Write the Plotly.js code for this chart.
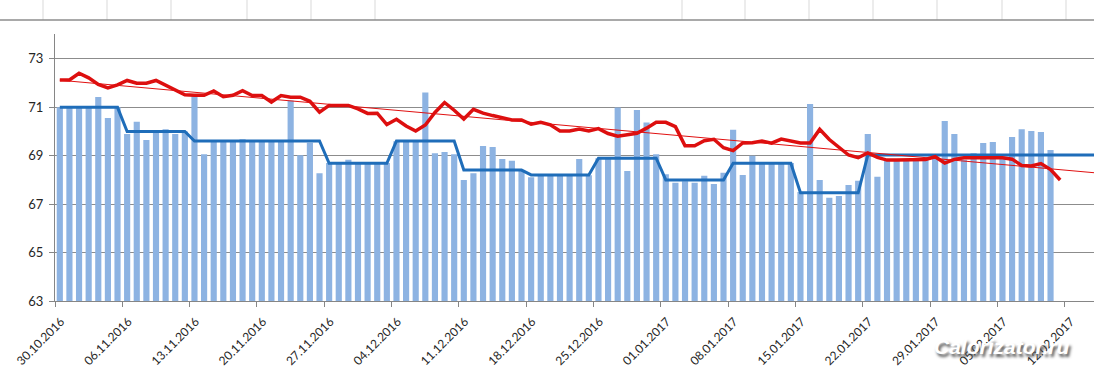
<!DOCTYPE html>
<html>
<head>
<meta charset="utf-8">
<script src="https://cdn.plot.ly/plotly-3.0.1.min.js"></script>
<style>
html,body{margin:0;padding:0;background:#fff;overflow:hidden;}
#chart{width:1180px;height:369px;}
</style>
</head>
<body>
<div id="chart"></div>
<script>
// Week tick labels (one every 7 days starting 30.10.2016)
const tickLabels = ['30.10.2016','06.11.2016','13.11.2016','20.11.2016','27.11.2016','04.12.2016',
  '11.12.2016','18.12.2016','25.12.2016','01.01.2017','08.01.2017','15.01.2017','22.01.2017',
  '29.01.2017','05.02.2017','12.02.2017','19.02.2017'];

// Daily weight (bars), 30.10.2016 .. 10.02.2017
const dailyWeight = [
  71.0, 71.0, 71.0, 71.0, 71.43, 70.56, 71.0,
  69.9, 70.40, 69.65, 70.0, 70.09, 69.9, 70.0,
  71.47, 69.06, 69.6, 69.6, 69.6, 69.68, 69.6,
  69.6, 69.6, 69.6, 71.28, 69.02, 69.54, 68.28,
  68.7, 68.7, 68.83, 68.7, 68.7, 68.7, 68.7,
  69.6, 69.6, 69.6, 71.61, 69.10, 69.16, 69.06,
  68.0, 68.28, 69.40, 69.36, 68.87, 68.79, 68.4,
  68.11, 68.2, 68.2, 68.2, 68.2, 68.87, 68.2,
  68.9, 68.9, 70.99, 68.37, 70.89, 70.37, 69.06,
  68.24, 67.89, 67.95, 67.89, 68.17, 67.83, 68.3,
  70.07, 68.21, 69.0, 68.7, 68.7, 68.7, 68.7,
  67.5, 71.14, 68.0, 67.27, 67.34, 67.79, 67.97,
  69.9, 68.13, 68.83, 68.83, 68.83, 68.83, 68.83,
  68.96, 70.44, 69.9, 68.83, 69.1, 69.53, 69.57,
  68.96, 69.78, 70.1, 70.02, 69.98, 69.24
];

// Smoothed weight (red line), 30.10.2016 .. 11.02.2017
const smoothWeight = [
  72.13, 72.13, 72.41, 72.22, 71.95, 71.8, 71.93,
  72.11, 72.0, 72.0, 72.11, 71.9, 71.69, 71.52,
  71.5, 71.5, 71.68, 71.44, 71.5, 71.69, 71.49,
  71.49, 71.22, 71.49, 71.42, 71.42, 71.25, 70.8,
  71.08, 71.08, 71.08, 70.94, 70.75, 70.76, 70.29,
  70.51, 70.23, 70.02, 70.27, 70.79, 71.2, 70.88,
  70.52, 70.92, 70.76, 70.66, 70.56, 70.48, 70.48,
  70.3, 70.38, 70.28, 70.02, 70.02, 70.1, 70.02,
  70.12, 69.92, 69.81, 69.88, 69.93, 70.14, 70.38,
  70.38, 70.2, 69.41, 69.41, 69.62, 69.68, 69.33,
  69.21, 69.53, 69.54, 69.61, 69.52, 69.69, 69.6,
  69.53, 69.53, 70.09, 69.67, 69.33, 69.03, 68.92,
  69.12, 68.93, 68.82, 68.82, 68.82, 68.82, 68.85,
  68.96, 68.7, 68.85, 68.92, 68.92, 68.92, 68.92,
  68.92, 68.86, 68.6, 68.58, 68.68, 68.43, 68.0
];

// Weekly level (blue step line), one value per week
const weeklyLevel = [71.0, 70.0, 69.61, 69.61, 68.69, 69.61, 68.41, 68.21,
  68.9, 68.0, 68.69, 67.47, 69.03, 69.03, 69.03, 69.03, 69.03];

// ---- build traces ----
const barX = dailyWeight.map((_, i) => i + 0.5);
const redX = smoothWeight.map((_, i) => i + 0.5);
const blueX = [], blueY = [];
weeklyLevel.forEach((v, w) => { for (let d = 0; d < 7; d++) { blueX.push(w * 7 + d + 0.5); blueY.push(v); } });

// linear trend of the red series (least squares), extended forward
const n = smoothWeight.length;
let sx = 0, sy = 0, sxx = 0, sxy = 0;
redX.forEach((x, i) => { const y = smoothWeight[i]; sx += x; sy += y; sxx += x * x; sxy += x * y; });
const slope = (n * sxy - sx * sy) / (n * sxx - sx * sx);
const icpt = (sy - slope * sx) / n;
const trendX = [redX[0], 120];
const trendY = trendX.map(x => icpt + slope * x);

const tickVals = tickLabels.map((_, k) => k * 7);

const traces = [
  {type: 'bar', x: barX, y: dailyWeight, marker: {color: '#8DB3E2'}, hoverinfo: 'skip'},
  {type: 'scatter', mode: 'lines', x: blueX, y: blueY, line: {color: '#1F6DB9', width: 3}, hoverinfo: 'skip'},
  {type: 'scatter', mode: 'lines', x: redX, y: smoothWeight, line: {color: '#DD0F0F', width: 3.5}, hoverinfo: 'skip'},
  {type: 'scatter', mode: 'lines', x: trendX, y: trendY, line: {color: '#E01010', width: 1}, hoverinfo: 'skip'}
];

// decoration: spreadsheet cell lines above chart
const L = 55, W = 1085, B = 301, H = 267;
const px = x => (x - L) / W, py = y => (B - y) / H;
const cellX = [43, 107, 171, 247, 311, 375, 682, 745, 809, 873, 937, 1002, 1066];
const shapes = cellX.map(x => ({type: 'line', xref: 'paper', yref: 'paper', x0: px(x), x1: px(x), y0: py(0), y1: py(20),
  line: {color: '#d9d9d9', width: 1}}));
shapes.push({type: 'line', xref: 'paper', yref: 'paper', x0: px(0), x1: px(1180), y0: py(20), y1: py(20),
  line: {color: '#8c8c8c', width: 1.5}});

const layout = {
  width: 1180, height: 369, autosize: false,
  margin: {l: 55, r: 40, t: 34, b: 68},
  paper_bgcolor: '#fff', plot_bgcolor: '#fff',
  showlegend: false, bargap: 0.36,
  font: {family: 'Lato, "Liberation Sans", sans-serif', size: 12, color: '#262626'},
  xaxis: {
    range: [0, 112.8], tickmode: 'array', tickvals: tickVals, ticktext: tickLabels,
    tickangle: -45, ticks: 'outside', ticklen: 5, tickcolor: '#868686',
    ticklabelshift: 6, ticklabelstandoff: 3,
    showline: true, linecolor: '#868686', linewidth: 1, showgrid: false, zeroline: false,
    tickfont: {size: 12, color: '#262626'}
  },
  yaxis: {
    range: [63, 74.03], tickmode: 'linear', tick0: 63, dtick: 2,
    ticks: 'outside', ticklen: 5, tickcolor: '#868686', ticklabelstandoff: 3,
    showline: true, linecolor: '#868686', linewidth: 1,
    showgrid: true, gridcolor: '#8c8c8c', gridwidth: 1, zeroline: false,
    tickfont: {size: 13, color: '#262626'}
  },
  shapes: shapes,
  annotations: [{
    xref: 'paper', yref: 'paper', x: px(1002), y: py(346), xanchor: 'center', yanchor: 'middle',
    text: 'Calorizator.ru', showarrow: false,
    font: {family: '"Liberation Sans", Arial, sans-serif', size: 21, color: '#ffffff', weight: 'bold', style: 'italic',
      shadow: '2px 3px 3px #555'}
  }]
};

Plotly.newPlot('chart', traces, layout, {staticPlot: true, displayModeBar: false});
</script>
</body>
</html>
